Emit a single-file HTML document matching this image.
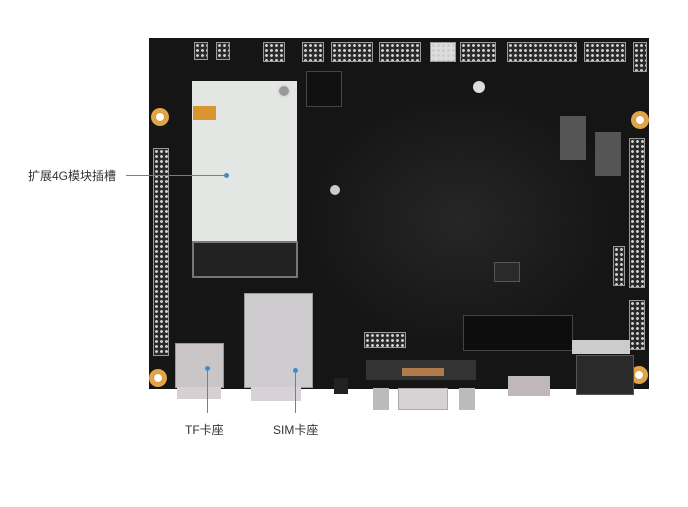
<!DOCTYPE html>
<html><head><meta charset="utf-8"><style>
*{margin:0;padding:0;box-sizing:border-box}
body{width:688px;height:507px;background:#fff;position:relative;overflow:hidden;font-family:"Liberation Sans","Noto Sans CJK SC",sans-serif}
.a{position:absolute}
.hdr{position:absolute;background:#2a2a2a;border:1px solid #9a9a9a;background-image:radial-gradient(circle,#ccc 1.3px,transparent 1.6px);background-size:5px 5px}
.hole{position:absolute;width:18px;height:18px;border-radius:50%;background:#d89a3a;border:4px solid #e2a447}
.hole:after{content:"";position:absolute;left:1px;top:1px;width:8px;height:8px;border-radius:50%;background:#fff}
.t{position:absolute;font-size:12px;color:#333;white-space:nowrap}
.ln{position:absolute;background:#3b8fd0}
.comp{position:absolute;background:#7a7a7a}
</style></head><body>
<!-- board -->
<div class="a" style="left:149px;top:38px;width:500px;height:351px;background:#151515"></div>
<div class="a" style="left:300px;top:90px;width:320px;height:260px;background:radial-gradient(ellipse at center,#262626,#151515 70%)"></div>
<!-- top headers -->
<div class="hdr" style="left:194px;top:42px;width:14px;height:18px"></div>
<div class="hdr" style="left:216px;top:42px;width:14px;height:18px"></div>
<div class="hdr" style="left:263px;top:42px;width:22px;height:20px"></div>
<div class="hdr" style="left:302px;top:42px;width:22px;height:20px"></div>
<div class="hdr" style="left:331px;top:42px;width:42px;height:20px"></div>
<div class="hdr" style="left:379px;top:42px;width:42px;height:20px"></div>
<div class="hdr" style="left:430px;top:42px;width:26px;height:20px;background-color:#ddd"></div>
<div class="hdr" style="left:460px;top:42px;width:36px;height:20px"></div>
<div class="hdr" style="left:507px;top:42px;width:70px;height:20px"></div>
<div class="hdr" style="left:584px;top:42px;width:42px;height:20px"></div>
<div class="hdr" style="left:633px;top:42px;width:14px;height:30px"></div>
<!-- side headers -->
<div class="hdr" style="left:153px;top:148px;width:16px;height:208px"></div>
<div class="hdr" style="left:629px;top:138px;width:16px;height:150px"></div>
<div class="hdr" style="left:613px;top:246px;width:12px;height:40px"></div>
<div class="hdr" style="left:629px;top:300px;width:16px;height:50px"></div>
<div class="hdr" style="left:364px;top:332px;width:42px;height:16px"></div>
<!-- holes -->
<div class="hole" style="left:151px;top:108px"></div>
<div class="hole" style="left:631px;top:111px"></div>
<div class="hole" style="left:149px;top:369px"></div>
<div class="hole" style="left:630px;top:366px"></div>
<!-- 4G module -->
<div class="a" style="left:192px;top:81px;width:105px;height:168px;background:#e4e6e3"></div>
<div class="a" style="left:193px;top:106px;width:23px;height:14px;background:#d9952f"></div>
<div class="a" style="left:277px;top:84px;width:14px;height:14px;border-radius:50%;background:#999;border:2px solid #ddd"></div>
<div class="a" style="left:192px;top:241px;width:106px;height:37px;background:#222;border:2px solid #777"></div>
<!-- chips -->
<div class="a" style="left:306px;top:71px;width:36px;height:36px;border:1px solid #444;background:#111"></div>
<div class="a" style="left:463px;top:315px;width:110px;height:36px;border:1px solid #444;background:#0d0d0d"></div>
<div class="a" style="left:494px;top:262px;width:26px;height:20px;background:#2a2a2a;border:1px solid #555"></div>
<div class="comp" style="left:560px;top:116px;width:26px;height:44px;background:#555"></div>
<div class="comp" style="left:595px;top:132px;width:26px;height:44px;background:#555"></div>
<div class="comp" style="left:330px;top:185px;width:10px;height:10px;border-radius:50%;background:#ccc"></div>
<div class="comp" style="left:473px;top:81px;width:12px;height:12px;border-radius:50%;background:#ddd"></div>
<!-- SIM -->
<div class="a" style="left:244px;top:293px;width:69px;height:95px;background:#cfcccf;border:1px solid #999"></div>
<div class="a" style="left:251px;top:387px;width:50px;height:14px;background:#d8d2d6"></div>
<!-- TF -->
<div class="a" style="left:175px;top:343px;width:49px;height:45px;background:#cac6c8;border:1px solid #999"></div>
<div class="a" style="left:177px;top:387px;width:44px;height:12px;background:#d8cfd2"></div>
<!-- VGA -->
<div class="a" style="left:366px;top:360px;width:110px;height:20px;background:#333"></div>
<div class="a" style="left:398px;top:388px;width:50px;height:22px;background:#d6d2d6;border:1px solid #aaa"></div>
<div class="a" style="left:373px;top:388px;width:16px;height:22px;background:#bbb"></div>
<div class="a" style="left:459px;top:388px;width:16px;height:22px;background:#bbb"></div>
<div class="a" style="left:402px;top:368px;width:42px;height:8px;background:#b07a4a"></div>
<div class="a" style="left:508px;top:376px;width:42px;height:20px;background:#c0b8b8"></div>
<div class="a" style="left:576px;top:355px;width:58px;height:40px;background:#2a2a2a;border:1px solid #555"></div>
<div class="a" style="left:572px;top:340px;width:58px;height:14px;background:#ccc"></div>
<div class="a" style="left:334px;top:378px;width:14px;height:16px;background:#222"></div>
<!-- callouts -->
<div class="ln" style="left:126px;top:175px;width:100px;height:1px"></div>
<div class="a" style="left:224px;top:173px;width:5px;height:5px;border-radius:50%;background:#3b8fd0"></div>
<div class="ln" style="left:207px;top:368px;width:1px;height:45px"></div>
<div class="a" style="left:205px;top:366px;width:5px;height:5px;border-radius:50%;background:#3b8fd0"></div>
<div class="ln" style="left:295px;top:370px;width:1px;height:43px"></div>
<div class="a" style="left:293px;top:368px;width:5px;height:5px;border-radius:50%;background:#3b8fd0"></div>
<div class="t" style="left:28px;top:167px">扩展4G模块插槽</div>
<div class="t" style="left:185px;top:421px">TF卡座</div>
<div class="t" style="left:273px;top:421px">SIM卡座</div>
</body></html>
